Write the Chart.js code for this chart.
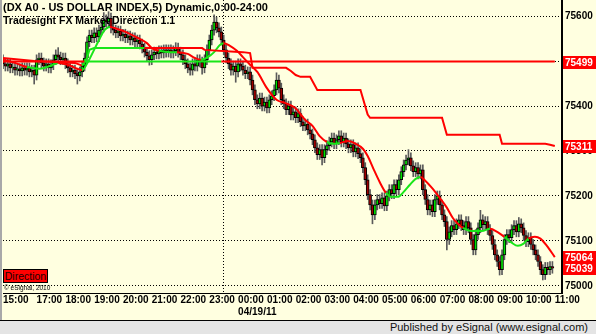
<!DOCTYPE html>
<html>
<head>
<meta charset="utf-8">
<script src="https://cdn.jsdelivr.net/npm/chart.js@4.4.0/dist/chart.umd.min.js"></script>
<style>
  body { margin: 0; width: 596px; height: 334px; overflow: hidden; background: #e4e4e4; position: relative;
         font-family: "Liberation Sans", Arial, sans-serif; }
  #wrap { position: absolute; left: 0; top: 0; width: 596px; height: 320px; background: #ffffe0; }
  #edge { position: absolute; left: 0; top: 0; width: 2px; height: 320px; background: #a8a8a8; }
  .t1 { position: absolute; left: 3px; top: 1px; font-size: 11px; font-weight: bold; color: #000; white-space: nowrap; }
  .t2 { position: absolute; left: 3px; top: 14px; font-size: 10.5px; font-weight: bold; color: #000; white-space: nowrap; }
  #dir { position: absolute; left: 3px; top: 269px; width: 43px; height: 12px; background: #ff0000; border: 1px solid #000;
         font-size: 10.5px; line-height: 12px; text-align: center; color: #200; }
  #copy { position: absolute; left: 4px; top: 284px; font-size: 6.5px; color: #000; white-space: nowrap; }
  #foot { position: absolute; left: 0; top: 320px; width: 596px; height: 14px; border-top: 1px solid #000; box-sizing: border-box; }
  #foot span { position: absolute; right: 8px; top: 0px; font-size: 11px; color: #111; }
</style>
</head>
<body>
<div id="wrap"><canvas id="chart" width="596" height="320"></canvas></div>
<div id="edge"></div>
<div class="t1">(DX A0 - US DOLLAR INDEX,5) Dynamic,0:00-24:00</div>
<div class="t2">Tradesight FX Market Direction 1.1</div>
<div id="dir">Direction</div>
<div id="copy">© eSignal, 2010</div>
<div id="foot"><span>Published by eSignal (www.esignal.com)</span></div>
<script>
// 5 minute bars, 15:00 -> 10:55 (bar index is the x value)
const openP = [
  75503,75494,75489,75494,75485,75487,75480,75483,75478,75485,
  75480,75485,75476,75480,75469,75503,75507,75496,75489,75494,
  75485,75492,75503,75514,75509,75503,75507,75494,75485,75476,
  75480,75472,75467,75476,75489,75507,75543,75558,75552,75563,
  75554,75569,75576,75592,75587,75596,75574,75569,75563,75567,
  75556,75560,75552,75556,75547,75552,75543,75547,75538,75529,
  75520,75512,75503,75514,75520,75516,75523,75518,75525,75520,
  75525,75518,75523,75529,75520,75514,75503,75494,75485,75480,
  75494,75489,75503,75498,75485,75503,75525,75547,75569,75587,
  75574,75565,75547,75525,75507,75494,75480,75489,75476,75494,
  75489,75480,75472,75476,75458,75436,75414,75405,75418,75400,
  75409,75396,75414,75423,75436,75458,75440,75414,75405,75392,
  75400,75380,75387,75374,75383,75365,75356,75360,75347,75338,
  75325,75307,75292,75303,75285,75303,75312,75320,75329,75316,
  75325,75334,75320,75329,75316,75307,75314,75298,75307,75294,
  75285,75263,75236,75203,75180,75158,75180,75192,75183,75196,
  75178,75200,75214,75205,75225,75214,75236,75254,75269,75280,
  75285,75267,75254,75263,75249,75258,75214,75192,75169,75180,
  75165,75192,75200,75180,75158,75143,75103,75120,75134,75125,
  75138,75147,75134,75125,75143,75129,75103,75080,75114,75129,
  75147,75136,75143,75125,75112,75092,75069,75054,75036,75069,
  75103,75114,75107,75125,75134,75120,75138,75129,75112,75098,
  75107,75092,75080,75069,75054,75036,75025,75041,75036,75043
];
const highP = [
  75514,75505,75505,75505,75498,75498,75494,75494,75496,75496,
  75496,75496,75491,75491,75514,75518,75518,75507,75505,75505,
  75503,75514,75525,75530,75520,75518,75518,75505,75496,75491,
  75491,75483,75487,75500,75518,75554,75569,75569,75574,75574,
  75580,75587,75608,75603,75610,75607,75585,75580,75578,75578,
  75571,75571,75567,75567,75563,75563,75558,75558,75549,75540,
  75531,75523,75525,75531,75531,75534,75534,75536,75536,75536,
  75536,75534,75541,75540,75531,75525,75514,75505,75496,75505,
  75505,75514,75514,75509,75514,75536,75558,75580,75603,75598,
  75585,75576,75558,75536,75518,75505,75500,75500,75505,75505,
  75500,75491,75487,75487,75469,75447,75425,75429,75429,75420,
  75420,75425,75434,75447,75474,75469,75451,75425,75416,75411,
  75411,75398,75398,75394,75394,75376,75371,75371,75358,75349,
  75336,75318,75314,75314,75314,75323,75331,75340,75340,75336,
  75345,75345,75340,75340,75327,75325,75325,75318,75318,75305,
  75296,75274,75247,75214,75191,75191,75203,75203,75207,75207,
  75211,75225,75225,75236,75236,75247,75265,75280,75291,75303,
  75296,75278,75274,75274,75269,75269,75225,75203,75191,75191,
  75203,75211,75211,75191,75169,75154,75131,75145,75145,75149,
  75158,75158,75145,75154,75154,75140,75114,75125,75140,75168,
  75158,75154,75154,75136,75123,75103,75080,75065,75080,75114,
  75125,75125,75136,75145,75145,75152,75149,75140,75123,75118,
  75118,75103,75091,75080,75065,75047,75052,75052,75054,75054
];
const lowP = [
  75483,75478,75478,75474,75474,75469,75469,75467,75467,75469,
  75469,75465,75465,75449,75458,75492,75485,75478,75478,75474,
  75474,75481,75492,75498,75492,75492,75483,75474,75465,75465,
  75461,75449,75456,75465,75478,75496,75532,75541,75541,75543,
  75543,75558,75565,75576,75576,75563,75558,75552,75552,75545,
  75545,75541,75541,75536,75536,75532,75532,75527,75518,75509,
  75501,75491,75492,75503,75505,75505,75507,75507,75509,75509,
  75507,75507,75512,75509,75503,75492,75483,75474,75469,75469,
  75478,75478,75487,75471,75474,75492,75514,75536,75558,75563,
  75554,75536,75514,75496,75483,75469,75469,75453,75465,75478,
  75469,75461,75461,75447,75425,75403,75394,75394,75389,75389,
  75385,75385,75403,75412,75425,75429,75403,75394,75381,75381,
  75369,75369,75363,75363,75354,75345,75345,75336,75327,75314,
  75296,75281,75281,75269,75274,75292,75301,75309,75305,75305,
  75314,75309,75309,75305,75296,75296,75287,75287,75283,75274,
  75252,75225,75192,75169,75138,75147,75169,75172,75172,75167,
  75167,75189,75194,75194,75203,75203,75225,75243,75258,75269,
  75256,75243,75243,75238,75238,75203,75181,75158,75158,75154,
  75154,75181,75169,75147,75132,75080,75092,75109,75114,75114,
  75127,75123,75114,75114,75118,75092,75069,75069,75103,75118,
  75125,75125,75114,75101,75081,75058,75043,75024,75025,75058,
  75092,75096,75096,75114,75109,75109,75118,75101,75087,75087,
  75081,75069,75058,75043,75025,75013,75014,75025,75025,75028
];
const closeP = [
  75494,75489,75494,75485,75487,75480,75483,75478,75485,75480,
  75485,75476,75480,75469,75503,75507,75496,75489,75494,75485,
  75492,75503,75514,75509,75503,75507,75494,75485,75476,75480,
  75472,75467,75476,75489,75507,75543,75558,75552,75563,75554,
  75569,75576,75592,75587,75596,75574,75569,75563,75567,75556,
  75560,75552,75556,75547,75552,75543,75547,75538,75529,75520,
  75512,75503,75514,75520,75516,75523,75518,75525,75520,75525,
  75518,75523,75529,75520,75514,75503,75494,75485,75480,75494,
  75489,75503,75498,75485,75503,75525,75547,75569,75587,75574,
  75565,75547,75525,75507,75494,75480,75489,75476,75494,75489,
  75480,75472,75476,75458,75436,75414,75405,75418,75400,75409,
  75396,75414,75423,75436,75458,75440,75414,75405,75392,75400,
  75380,75387,75374,75383,75365,75356,75360,75347,75338,75325,
  75307,75292,75303,75285,75303,75312,75320,75329,75316,75325,
  75334,75320,75329,75316,75307,75314,75298,75307,75294,75285,
  75263,75236,75203,75180,75158,75180,75192,75183,75196,75178,
  75200,75214,75205,75225,75214,75236,75254,75269,75280,75285,
  75267,75254,75263,75249,75258,75214,75192,75169,75180,75165,
  75192,75200,75180,75158,75143,75103,75120,75134,75125,75138,
  75147,75134,75125,75143,75129,75103,75080,75114,75129,75147,
  75136,75143,75125,75112,75092,75069,75054,75036,75069,75103,
  75114,75107,75125,75134,75120,75138,75129,75112,75098,75107,
  75092,75080,75069,75054,75036,75025,75041,75036,75043,75039
];

// moving average line (bar position, value, 1 = green / 0 = red)
const maIdx = [0,5,10,15.4,19.6,23,27,31,33,35.4,37.5,40,42,44.6,48,52,56,60,62,65,
  70,72.5,77,80,82.5,85.4,88,90.4,92,94.6,97.5,100,103,106,110,114,117.5,121.7,126,129,
  132,135,138,140.4,143.8,147,150,152,154.6,157,159.6,162,164.6,167,169.6,172,174,176,178.8,182,
  185,187.5,189.6,191.7,195.4,199.6,203,206,209,212,214.6,217,219,221.7,224,226.7,230];
const maVal = [75503,75496,75487,75483,75489,75496,75492,75483,75480,75498,75520,75547,75567,75576,75571,75563,75552,75540,75529,75523,
  75520,75520,75516,75507,75503,75509,75520,75536,75540,75534,75523,75509,75492,75476,75440,75414,75407,75396,75369,75356,
  75333,75320,75316,75318,75322,75316,75305,75289,75258,75231,75207,75198,75198,75209,75225,75238,75242,75234,75218,75196,
  75174,75151,75138,75129,75122,75122,75127,75120,75109,75096,75089,75094,75105,75109,75105,75089,75064];
const maUp = [0,0,1,1,1,0,0,0,1,1, 1,1,1,0,0,0,0,0,0,1, 1,0,0,0,1,1,1,1,0,0,
  0,0,0,0,0,0,0,0,0,0, 0,1,1,0,0,0,0,0,0,0, 1,1,1,1,1,1,0,0,0,0,
  0,0,0,1,1,1,0,0,1,1, 1,1,0,0,0,0,0];

// trailing step line
const stepIdx = [0,13,30,33,35,36,38,59,83,84,100,103,104,118,120,122,124,128,131,149,152,153,183,185,207,208,226,228,230];
const stepVal = [75507,75500,75496,75490,75507,75525,75529,75529,75529,75525,75520,75518,75485,75485,75478,75469,75465,75465,75436,75436,
  75381,75374,75374,75336,75336,75316,75316,75314,75311];
const stepUp = [0,0,0,1,1,1,1,0,0,0,0,0,0,0,0,0,0,0,0,0,0,0,0,0,0,0,0,0,0];

// direction level
const levelIdx = [0,34,91,230];
const levelVal = [75499,75499,75499,75499];
const levelUp = [0,1,0,0];

const xTickIdx = [0,14,26,38,50,62,74,86,98,110,122,134,146,158,170,182,194,206,218,230];
const xTickText = ['15:00','17:00','18:00','19:00','20:00','21:00','22:00','23:00',['00:00','04/19/11'],
  '01:00','02:00','03:00','04:00','05:00','06:00','07:00','08:00','09:00','10:00','11:00'];
const yTicks = [75000,75100,75200,75300,75400,75500,75600];

const RED = '#ff0000', GREEN = '#19e619';
const font = { family: '"Liberation Sans", Arial, sans-serif', size: 10, weight: 'bold' };

function pts(idx, val) { return idx.map((x, i) => ({ x: x, y: val[i] })); }
function segColor(states) {
  return { borderColor: c => states[c.p0DataIndex] ? GREEN : RED };
}

const lastLabels = {
  id: 'lastLabels',
  afterDraw(chart) {
    const ys = chart.scales.y, ctx = chart.ctx, left = chart.chartArea.right + 1;
    const vals = [levelVal[levelVal.length - 1], stepVal[stepVal.length - 1], maVal[maVal.length - 1], closeP[closeP.length - 1]];
    ctx.save();
    ctx.font = 'bold 10px "Liberation Sans", Arial, sans-serif';
    ctx.textBaseline = 'middle';
    vals.forEach(v => {
      const py = Math.round(ys.getPixelForValue(v));
      ctx.fillStyle = RED;
      ctx.fillRect(left, py - 6, chart.width - left, 13);
      ctx.fillStyle = '#fff';
      ctx.fillText(String(v), left + 2, py + 1);
    });
    ctx.restore();
  }
};

new Chart(document.getElementById('chart'), {
  data: {
    datasets: [
      { type: 'line', data: pts(levelIdx, levelVal), segment: segColor(levelUp), borderWidth: 2, pointRadius: 0, order: 0 },
      { type: 'line', data: pts(stepIdx, stepVal), segment: segColor(stepUp), borderWidth: 2, pointRadius: 0, order: 0 },
      { type: 'line', data: pts(maIdx, maVal), segment: segColor(maUp), borderWidth: 2, pointRadius: 0,
        cubicInterpolationMode: 'monotone', order: 0 },
      { type: 'bar', data: closeP.map((c, i) => ({ x: i, y: [openP[i], c] })),
        backgroundColor: c => closeP[c.dataIndex] >= openP[c.dataIndex] ? '#00e000' : '#a00000',
        borderColor: '#000', borderWidth: 1, borderSkipped: false, barThickness: 3, grouped: false, order: 1 },
      { type: 'bar', data: closeP.map((c, i) => ({ x: i, y: [lowP[i], highP[i]] })),
        backgroundColor: '#5a5a5a', borderWidth: 0, barThickness: 1, grouped: false, order: 2 }
    ]
  },
  options: {
    responsive: false,
    animation: false,
    layout: { padding: { left: 3, top: 0, right: 0, bottom: 0 } },
    plugins: { legend: { display: false }, tooltip: { enabled: false } },
    scales: {
      x: {
        type: 'linear', min: 0, max: 233, offset: false,
        afterBuildTicks: s => { s.ticks = xTickIdx.map(v => ({ value: v })); },
        afterFit: s => { s.height = 27; s.paddingLeft = 0; s.paddingRight = 0; },
        ticks: { autoSkip: false, maxRotation: 0, minRotation: 0, align: 'start', padding: 1, color: '#000', font: font,
                 callback: (v, i) => xTickText[i] },
        grid: { drawTicks: false, lineWidth: 1,
                color: c => (c.tick && c.tick.value === 98) ? '#000' : 'rgba(0,0,0,0)' },
        border: { display: true, color: '#000', width: 1, dash: [1, 2] }
      },
      y: {
        position: 'right', min: 74984, max: 75636,
        afterBuildTicks: s => { s.ticks = yTicks.map(v => ({ value: v })); },
        afterFit: s => { s.width = 34; s.paddingTop = 0; s.paddingBottom = 0; },
        ticks: { padding: 3, color: '#000', font: font, callback: v => String(v) },
        grid: { drawTicks: false, color: '#000', lineWidth: 1 },
        border: { display: true, color: '#000', width: 2, dash: [1, 2] }
      }
    }
  },
  plugins: [lastLabels]
});
</script>
</body>
</html>
